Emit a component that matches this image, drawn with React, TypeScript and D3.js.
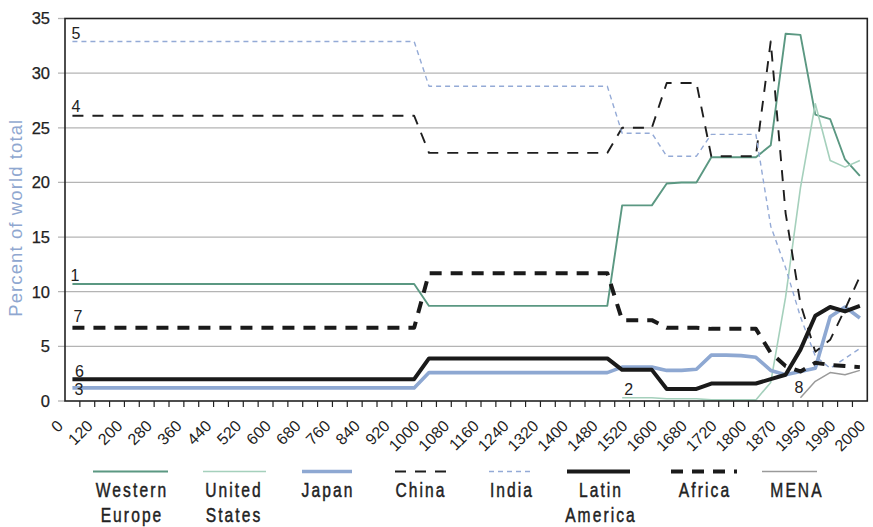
import React from "react";
import * as d3 from "d3";

// Category boundary labels (one label every two categories)
const tickLabels = ["0","120","200","280","360","440","520","600","680","760","840","920","1000","1080","1160","1240","1320","1400","1480","1520","1600","1680","1720","1800","1870","1950","1990","2000"];
const categoryCount = 54;

const westernEurope = [10.7,10.7,10.7,10.7,10.7,10.7,10.7,10.7,10.7,10.7,10.7,10.7,10.7,10.7,10.7,10.7,10.7,10.7,10.7,10.7,10.7,10.7,10.7,10.7,
  8.7,8.7,8.7,8.7,8.7,8.7,8.7,8.7,8.7,8.7,8.7,8.7,8.7,
  17.9,17.9,17.9, 19.9,20.0,20.0, 22.3,22.3,22.3,22.3,
  23.4,33.6,33.5,26.2,25.8,22.1,20.6];
const unitedStates = [null,null,null,null,null,null,null,null,null,null,null,null,null,null,null,null,null,null,null,null,null,null,null,null,
  null,null,null,null,null,null,null,null,null,null,null,null,null,
  0.3,0.3,0.3, 0.2,0.2,0.2, 0.1,0.1,0.1,0.1,
  1.7,9.5,19.5,27.2,22.0,21.4,22.0];
const japan = [1.2,1.2,1.2,1.2,1.2,1.2,1.2,1.2,1.2,1.2,1.2,1.2,1.2,1.2,1.2,1.2,1.2,1.2,1.2,1.2,1.2,1.2,1.2,1.2,
  2.6,2.6,2.6,2.6,2.6,2.6,2.6,2.6,2.6,2.6,2.6,2.6,2.6,
  3.1,3.1,3.1, 2.8,2.8,2.9, 4.2,4.2,4.15,4.0,
  2.8,2.4,2.7,3.0,7.7,8.6,7.6];
const china = [26.1,26.1,26.1,26.1,26.1,26.1,26.1,26.1,26.1,26.1,26.1,26.1,26.1,26.1,26.1,26.1,26.1,26.1,26.1,26.1,26.1,26.1,26.1,26.1,
  22.7,22.7,22.7,22.7,22.7,22.7,22.7,22.7,22.7,22.7,22.7,22.7,22.7,
  25.0,25.0,25.0, 29.1,29.1,29.1, 22.4,22.4,22.4,22.4,
  32.9,17.2,8.9,4.5,5.6,8.4,11.4];
const india = [32.9,32.9,32.9,32.9,32.9,32.9,32.9,32.9,32.9,32.9,32.9,32.9,32.9,32.9,32.9,32.9,32.9,32.9,32.9,32.9,32.9,32.9,32.9,32.9,
  28.8,28.8,28.8,28.8,28.8,28.8,28.8,28.8,28.8,28.8,28.8,28.8,28.8,
  24.5,24.5,24.5, 22.4,22.4,22.4, 24.4,24.4,24.4,24.4,
  16.0,12.2,7.7,4.1,3.0,3.9,4.8];
const latinAmerica = [2.0,2.0,2.0,2.0,2.0,2.0,2.0,2.0,2.0,2.0,2.0,2.0,2.0,2.0,2.0,2.0,2.0,2.0,2.0,2.0,2.0,2.0,2.0,2.0,
  3.9,3.9,3.9,3.9,3.9,3.9,3.9,3.9,3.9,3.9,3.9,3.9,3.9,
  2.85,2.85,2.85, 1.1,1.1,1.1, 1.6,1.6,1.6,1.6,
  2.0,2.4,4.7,7.8,8.6,8.2,8.7];
const africa = [6.7,6.7,6.7,6.7,6.7,6.7,6.7,6.7,6.7,6.7,6.7,6.7,6.7,6.7,6.7,6.7,6.7,6.7,6.7,6.7,6.7,6.7,6.7,6.7,
  11.7,11.7,11.7,11.7,11.7,11.7,11.7,11.7,11.7,11.7,11.7,11.7,11.7,
  7.4,7.4,7.4, 6.7,6.7,6.7, 6.6,6.6,6.6,6.6,
  4.4,3.2,2.7,3.5,3.3,3.2,3.1];
const mena = [null,null,null,null,null,null,null,null,null,null,null,null,null,null,null,null,null,null,null,null,null,null,null,null,
  null,null,null,null,null,null,null,null,null,null,null,null,null,
  null,null,null, null,null,null, null,null,null,null,
  null,null,0.3,1.8,2.6,2.4,2.8];

const seriesNames = [["Western", "Europe"], ["United", "States"], ["Japan"], ["China"], ["India"], ["Latin", "America"], ["Africa"], ["MENA"]];
const seriesValues = [westernEurope, unitedStates, japan, china, india, latinAmerica, africa, mena];
const seriesTags = ["1", "2", "3", "4", "5", "6", "7", "8"];
const yTicks = [0, 5, 10, 15, 20, 25, 30, 35];

// styles
const styles = [
  { color: "#5b9882", width: 1.9, dash: null, lx1: 93, lx2: 168, cx: 131, tdx: -2, tdy: -3 },
  { color: "#a5d0bc", width: 1.6, dash: null, lx1: 203, lx2: 266, cx: 233, tdx: 2, tdy: -3 },
  { color: "#8ea8d2", width: 3.6, dash: null, lx1: 302, lx2: 352, cx: 327, tdx: 2, tdy: 7 },
  { color: "#1e1e1e", width: 1.9, dash: "11 9", lx1: 395, lx2: 446, cx: 420, tdx: -1, tdy: -4 },
  { color: "#94aad6", width: 1.4, dash: "5 4", lx1: 489, lx2: 532, cx: 511, tdx: -1, tdy: -2.5 },
  { color: "#1a1a1a", width: 4, dash: null, lx1: 567, lx2: 630, cx: 600, tdx: 2.5, tdy: -2.5 },
  { color: "#1a1a1a", width: 4, dash: "12 9", lx1: 671, lx2: 737, cx: 704, tdx: 1, tdy: -6 },
  { color: "#9a9a9a", width: 1.5, dash: null, lx1: 762, lx2: 817, cx: 796, tdx: -6, tdy: -4.5 },
];

const W = 873, H = 527;
const plot = { left: 65, right: 867.3, top: 18.5, bottom: 401 };
const baseFont = "'Liberation Sans', Arial, Helvetica, sans-serif";
const condensed = 0.8;

export default function App() {
  const x = d3.scaleLinear().domain([0, categoryCount]).range([plot.left, plot.right]);
  const y = d3.scaleLinear().domain([0, 35]).range([plot.bottom, plot.top]);
  const cx = (i: number) => x(i + 0.5);

  const line = d3
    .line<number | null>()
    .defined((d) => d !== null)
    .x((_, i) => cx(i))
    .y((d) => y(d as number));

  const boundaries = d3.range(1, categoryCount);

  return (
    <svg
      width={W}
      height={H}
      viewBox={`0 0 ${W} ${H}`}
      style={{ position: "absolute", left: 0, top: 0, background: "#fff", display: "block" }}
    >
      {/* grid lines */}
      {yTicks.filter((t) => t > 0 && t < 35).map((t) => (
        <line key={"g" + t} x1={plot.left - 7} x2={plot.right} y1={y(t)} y2={y(t)} stroke="#b4b4b4" strokeWidth={1.3} />
      ))}
      <line x1={plot.left - 7} x2={plot.left} y1={y(0)} y2={y(0)} stroke="#b4b4b4" strokeWidth={1.3} />
      <line x1={plot.left - 7} x2={plot.left} y1={y(35)} y2={y(35)} stroke="#b4b4b4" strokeWidth={1.3} />

      {/* y tick labels */}
      {yTicks.map((t) => (
        <text key={"yt" + t} x={50} y={y(t) + 5.8} textAnchor="end" fontFamily={baseFont} fontSize={16.5} fill="#222" stroke="#222" strokeWidth={0.25}>
          {t}
        </text>
      ))}

      {/* y axis title */}
      <text
        transform={`translate(21.5, ${(plot.top + plot.bottom) / 2 + 8}) rotate(-90)`}
        textAnchor="middle"
        fontFamily={baseFont}
        fontSize={18.5}
        letterSpacing={1.1}
        fill="#8fa7d0"
      >
        Percent of world total
      </text>

      {/* x ticks */}
      {boundaries.map((b) => (
        <line key={"xt" + b} x1={x(b)} x2={x(b)} y1={plot.bottom} y2={plot.bottom + 6} stroke="#222" strokeWidth={1.2} />
      ))}

      {/* x labels */}
      {tickLabels.map((lab, k) => (
        <text
          key={"xl" + k}
          transform={`translate(${x(2 * k) - 1}, 427) rotate(-45)`}
          textAnchor="end"
          fontFamily={baseFont}
          fontSize={16}
          fill="#222"
        >
          {lab}
        </text>
      ))}

      {/* series */}
      {seriesValues.map((vals, s) => (
        <path
          key={"s" + s}
          d={line(vals) || ""}
          fill="none"
          stroke={styles[s].color}
          strokeWidth={styles[s].width}
          strokeDasharray={styles[s].dash || undefined}
          strokeLinejoin="round"
          strokeLinecap="butt"
        />
      ))}

      {/* series tags */}
      {seriesValues.map((vals, s) => {
        const first = vals.findIndex((v) => v !== null);
        return (
          <text
            key={"tag" + s}
            x={cx(first) + styles[s].tdx}
            y={y(vals[first] as number) + styles[s].tdy}
            fontFamily={baseFont}
            fontSize={16}
            fill="#222"
          >
            {seriesTags[s]}
          </text>
        );
      })}

      {/* frame */}
      <rect
        x={plot.left}
        y={plot.top}
        width={plot.right - plot.left}
        height={plot.bottom - plot.top}
        fill="none"
        stroke="#222"
        strokeWidth={1.6}
      />

      {/* legend */}
      {seriesNames.map((name, s) => (
        <g key={"lg" + s}>
          <line
            x1={styles[s].lx1}
            x2={styles[s].lx2}
            y1={471.5}
            y2={471.5}
            stroke={styles[s].color}
            strokeWidth={styles[s].width}
            strokeDasharray={styles[s].dash || undefined}
          />
          {name.map((part, j) => (
            <text
              key={j}
              transform={`translate(${styles[s].cx + 1}, ${496.5 + j * 25}) scale(${condensed}, 1)`}
              textAnchor="middle"
              fontFamily={baseFont}
              fontSize={19.5}
              letterSpacing={2.6}
              fill="#222"
              stroke="#222"
              strokeWidth={0.45}
            >
              {part}
            </text>
          ))}
        </g>
      ))}
    </svg>
  );
}
